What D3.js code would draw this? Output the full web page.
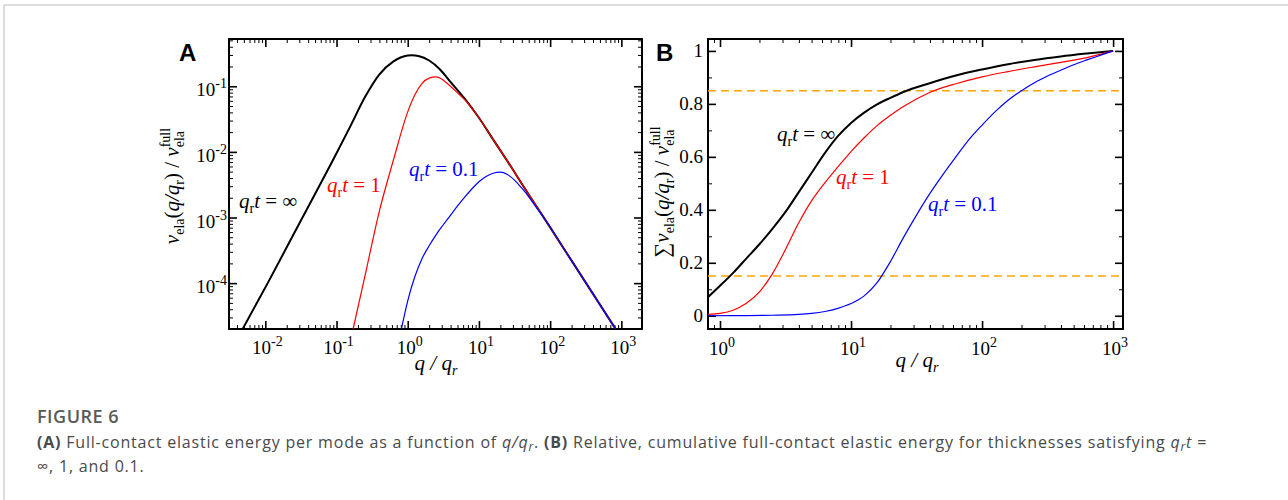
<!DOCTYPE html>
<html>
<head>
<meta charset="utf-8">
<script src="https://cdn.jsdelivr.net/npm/d3@7"></script>
<style>
  body { margin: 0; background: #fff; }
  svg { display: block; }
</style>
</head>
<body>
<div id="fig"></div>
<script>
// Panel A: elastic energy per mode
const qA_inf = [0.0048, 0.0108, 0.0316, 0.1, 0.158, 0.251, 0.398, 0.631, 0.794, 1.0, 1.148, 1.413, 2.0, 2.82, 3.98, 6.31, 10, 15.8, 25.1, 41.7, 79.4, 200, 832];
const vA_inf = [2.0e-5, 1.0e-4, 9.0e-4, 9.55e-3, 0.0251, 0.0684, 0.151, 0.240, 0.274, 0.294, 0.297, 0.289, 0.247, 0.182, 0.117, 0.0646, 0.0331, 0.0155, 0.00724, 0.00305, 0.00104, 2.2e-4, 2.0e-5];
const qA_1 = [0.171, 0.251, 0.398, 0.631, 1.0, 1.26, 1.58, 2.0, 2.51, 3.16, 3.98, 5.01, 6.31, 10, 15.8, 25.1, 41.7, 79.4, 200, 832];
const vA_1 = [2.0e-5, 1.29e-4, 1.23e-3, 7.59e-3, 0.0407, 0.0741, 0.110, 0.133, 0.139, 0.124, 0.1, 0.0794, 0.0624, 0.0331, 0.0155, 0.00724, 0.00305, 0.00104, 2.2e-4, 2.0e-5];
const qA_01 = [0.815, 1.0, 1.26, 1.58, 2.0, 2.51, 3.16, 3.98, 5.01, 6.31, 7.94, 10, 12.6, 15.8, 20, 25.1, 31.6, 39.8, 50.1, 63.1, 79.4, 200, 832];
const vA_01 = [2.0e-5, 5.37e-5, 1.26e-4, 2.34e-4, 3.72e-4, 5.5e-4, 7.76e-4, 1.08e-3, 1.50e-3, 2.04e-3, 2.72e-3, 3.51e-3, 4.22e-3, 4.73e-3, 4.90e-3, 4.52e-3, 3.72e-3, 2.82e-3, 2.07e-3, 1.45e-3, 1.04e-3, 2.2e-4, 2.0e-5];

// Panel B: cumulative relative energy
const qB_inf = [0.81, 1, 1.26, 1.58, 2.0, 2.51, 3.16, 3.98, 5.01, 6.31, 7.94, 10, 12.6, 15.8, 20, 25.1, 39.8, 63.1, 100, 158, 251, 398, 631, 1000];
const sB_inf = [0.07, 0.113, 0.162, 0.215, 0.27, 0.328, 0.392, 0.466, 0.54, 0.614, 0.678, 0.728, 0.767, 0.798, 0.823, 0.845, 0.878, 0.907, 0.930, 0.950, 0.966, 0.979, 0.990, 1.0];
const qB_1 = [0.81, 1, 1.26, 1.58, 2.0, 2.51, 3.16, 3.98, 5.01, 6.31, 7.94, 10, 12.6, 15.8, 20, 25.1, 39.8, 63.1, 100, 158, 251, 398, 631, 1000];
const sB_1 = [0.005, 0.009, 0.021, 0.046, 0.09, 0.158, 0.25, 0.35, 0.435, 0.502, 0.562, 0.62, 0.672, 0.718, 0.757, 0.79, 0.843, 0.876, 0.902, 0.922, 0.94, 0.957, 0.975, 1.0];
const qB_01 = [0.81, 1.58, 2.51, 3.98, 5.01, 6.31, 7.94, 10, 12.6, 15.8, 20, 25.1, 31.6, 39.8, 50.1, 63.1, 79.4, 100, 126, 158, 200, 251, 316, 398, 501, 631, 794, 1000];
const sB_01 = [0.0, 0.0005, 0.002, 0.005, 0.009, 0.016, 0.028, 0.046, 0.075, 0.125, 0.205, 0.295, 0.38, 0.46, 0.532, 0.6, 0.665, 0.72, 0.771, 0.814, 0.85, 0.88, 0.905, 0.927, 0.948, 0.966, 0.983, 1.0];
const thresholds = [0.15, 0.85];

// tick labels
const xExpA = [-2, -1, 0, 1, 2, 3];
const yExpA = [-1, -2, -3, -4];
const xExpB = [0, 1, 2, 3];
const yTicksB = [0, 0.2, 0.4, 0.6, 0.8, 1];

const serif = "Liberation Serif, Times New Roman, serif";

const svg = d3.select("#fig").append("svg")
  .attr("width", 1288)
  .attr("height", 500);

// page border lines
svg.append("line").attr("x1", 4).attr("x2", 1288).attr("y1", 5).attr("y2", 5)
  .attr("stroke", "#d2d2d2").attr("stroke-width", 1.5);
svg.append("line").attr("x1", 4).attr("x2", 4).attr("y1", 5).attr("y2", 500)
  .attr("stroke", "#d2d2d2").attr("stroke-width", 1.5);

// scales
const xA = d3.scaleLog().domain([0.00309, 1950]).range([229, 642]);
const yA = d3.scaleLog().domain([2e-5, 0.525]).range([329, 39]);
const xB = d3.scaleLog().domain([0.81, 1190]).range([708, 1123]);
const yB = d3.scaleLinear().domain([-0.05, 1.045]).range([329, 39]);

function logMinors(dom) {
  const out = [];
  for (let e = -6; e <= 4; e++)
    for (let m = 2; m <= 9; m++) {
      const v = m * Math.pow(10, e);
      if (v >= dom[0] && v <= dom[1]) out.push(v);
    }
  return out;
}

function frame(x, y, xMaj, xMin, yMaj, yMin) {
  const [l, r] = x.range();
  const [b, t] = y.range();
  const g = svg.append("g");
  const add = (axis, tf, vals, size, w) => g.append("g")
    .attr("transform", tf)
    .call(axis.tickValues(vals).tickSize(-size).tickFormat(""))
    .call(s => {
      s.select(".domain").remove();
      s.selectAll("line").attr("stroke", "#000").attr("stroke-width", w);
    });
  add(d3.axisBottom(x), `translate(0,${b})`, xMaj, 8, 1.6);
  add(d3.axisBottom(x), `translate(0,${b})`, xMin, 4, 1);
  add(d3.axisTop(x), `translate(0,${t})`, xMaj, 8, 1.6);
  add(d3.axisTop(x), `translate(0,${t})`, xMin, 4, 1);
  add(d3.axisLeft(y), `translate(${l},0)`, yMaj, 8, 1.6);
  add(d3.axisLeft(y), `translate(${l},0)`, yMin, 4, 1);
  add(d3.axisRight(y), `translate(${r},0)`, yMaj, 8, 1.6);
  add(d3.axisRight(y), `translate(${r},0)`, yMin, 4, 1);
  g.append("rect").attr("x", l).attr("y", t).attr("width", r - l).attr("height", b - t)
    .attr("fill", "none").attr("stroke", "#000").attr("stroke-width", 2);
}

function powLabel(sel, e) {
  sel.append("tspan").text("10");
  sel.append("tspan").attr("font-size", 14).attr("dy", -8).text(e);
}

function clip(id, x, y) {
  const [l, r] = x.range();
  const [b, t] = y.range();
  svg.append("clipPath").attr("id", id).append("rect")
    .attr("x", l).attr("y", t).attr("width", r - l).attr("height", b - t);
}

function curve(x, y, qs, vs, color, w, clipId) {
  const line = d3.line()
    .x(d => x(d[0]))
    .y(d => y(d[1]))
    .curve(d3.curveMonotoneX);
  svg.append("path")
    .datum(d3.zip(qs, vs))
    .attr("d", line)
    .attr("fill", "none")
    .attr("stroke", color)
    .attr("stroke-width", w)
    .attr("clip-path", `url(#${clipId})`);
}

function curveLabel(x, y, color, val) {
  const t = svg.append("text").attr("x", x).attr("y", y)
    .attr("font-family", serif).attr("font-size", 21).attr("fill", color);
  t.append("tspan").attr("font-style", "italic").text("q");
  t.append("tspan").attr("font-size", 14).attr("dy", 5).text("r");
  t.append("tspan").attr("font-style", "italic").attr("dy", -5).text("t");
  t.append("tspan").text(" = " + val);
}

// y title: [prefix] v_ela(q/q_r) / v_ela^full
function yTitle(cx, cy, prefix) {
  const t = svg.append("g").attr("transform", `translate(${cx},${cy}) rotate(-90)`)
    .append("text").attr("text-anchor", "middle")
    .attr("font-family", serif).attr("font-size", 21);
  if (prefix) t.append("tspan").text(prefix);
  t.append("tspan").attr("font-style", "italic").text("v");
  t.append("tspan").attr("font-size", 14).attr("dy", 5).text("ela");
  t.append("tspan").attr("dy", -5).text("(");
  t.append("tspan").attr("font-style", "italic").text("q/q");
  t.append("tspan").attr("font-size", 14).attr("dy", 5).text("r");
  t.append("tspan").attr("dy", -5).text(") / ");
  t.append("tspan").attr("font-style", "italic").text("v");
  const full = t.append("tspan").attr("font-size", 14).attr("dy", -9).text("full");
  const wFull = full.node().getComputedTextLength();
  t.append("tspan").attr("font-size", 14).attr("dx", -wFull).attr("dy", 14).text("ela");
}

// ---------- Panel A ----------
const xMajA = xExpA.map(e => Math.pow(10, e));
const yMajA = yExpA.map(e => Math.pow(10, e));
frame(xA, yA, xMajA, logMinors(xA.domain()), yMajA, logMinors(yA.domain()));
clip("clipA", xA, yA);
curve(xA, yA, qA_inf, vA_inf, "#000", 2, "clipA");
curve(xA, yA, qA_1, vA_1, "#ff0000", 1.2, "clipA");
curve(xA, yA, qA_01, vA_01, "#0000ff", 1.2, "clipA");

svg.append("g").selectAll("text").data(xExpA).join("text")
  .attr("x", e => xA(Math.pow(10, e)) + 2)
  .attr("y", 354)
  .attr("text-anchor", "middle")
  .attr("font-family", serif).attr("font-size", 19)
  .each(function(e) { powLabel(d3.select(this), e); });

svg.append("g").selectAll("text").data(yExpA).join("text")
  .attr("x", 227)
  .attr("y", e => yA(Math.pow(10, e)) + 10)
  .attr("text-anchor", "end")
  .attr("font-family", serif).attr("font-size", 19)
  .each(function(e) { powLabel(d3.select(this), e); });

const xtA = svg.append("text").attr("x", 436).attr("y", 370).attr("text-anchor", "middle")
  .attr("font-family", serif).attr("font-size", 21);
xtA.append("tspan").attr("font-style", "italic").text("q / q");
xtA.append("tspan").attr("font-style", "italic").attr("font-size", 14).attr("dy", 5).text("r");

yTitle(179, 186, "");
curveLabel(239, 208, "#000", "\u221e");
curveLabel(327, 192, "#ff0000", "1");
curveLabel(409, 176, "#0000ff", "0.1");

svg.append("text").attr("x", 179).attr("y", 61)
  .attr("font-family", "Liberation Sans, Arial, sans-serif").attr("font-weight", "bold")
  .attr("font-size", 24).text("A");

// ---------- Panel B ----------
const xMajB = xExpB.map(e => Math.pow(10, e));
const yMinB = d3.range(0, 1.05, 0.1).map(v => +v.toFixed(1)).filter(v => !yTicksB.includes(v));
frame(xB, yB, xMajB, logMinors(xB.domain()), yTicksB, yMinB);
clip("clipB", xB, yB);

svg.append("g").selectAll("line").data(thresholds).join("line")
  .attr("x1", xB.range()[0]).attr("x2", xB.range()[1])
  .attr("y1", d => yB(d)).attr("y2", d => yB(d))
  .attr("stroke", "#ffa500").attr("stroke-width", 1.5)
  .attr("stroke-dasharray", "8,5");

curve(xB, yB, qB_inf, sB_inf, "#000", 2, "clipB");
curve(xB, yB, qB_1, sB_1, "#ff0000", 1.2, "clipB");
curve(xB, yB, qB_01, sB_01, "#0000ff", 1.2, "clipB");

svg.append("g").selectAll("text").data(xExpB).join("text")
  .attr("x", e => xB(Math.pow(10, e)) + 2)
  .attr("y", 355)
  .attr("text-anchor", "middle")
  .attr("font-family", serif).attr("font-size", 19)
  .each(function(e) { powLabel(d3.select(this), e); });

svg.append("g").selectAll("text").data(yTicksB).join("text")
  .attr("x", 703)
  .attr("y", d => yB(d) + 6.5)
  .attr("text-anchor", "end")
  .attr("font-family", serif).attr("font-size", 19)
  .text(d => d3.format("")(d));

const xtB = svg.append("text").attr("x", 917).attr("y", 367).attr("text-anchor", "middle")
  .attr("font-family", serif).attr("font-size", 21);
xtB.append("tspan").attr("font-style", "italic").text("q / q");
xtB.append("tspan").attr("font-style", "italic").attr("font-size", 14).attr("dy", 5).text("r");

yTitle(669, 192, "\u2211");
curveLabel(777, 141, "#000", "\u221e");
curveLabel(836, 184, "#ff0000", "1");
curveLabel(928, 211, "#0000ff", "0.1");

svg.append("text").attr("x", 656).attr("y", 61)
  .attr("font-family", "Liberation Sans, Arial, sans-serif").attr("font-weight", "bold")
  .attr("font-size", 24).text("B");

// ---------- caption ----------
const capFont = "Open Sans, Noto Sans, sans-serif";
svg.append("text").attr("x", 37).attr("y", 423)
  .attr("font-family", capFont).attr("font-size", 18).attr("font-weight", 600)
  .attr("letter-spacing", 0.5)
  .attr("fill", "#5a5a5a").text("FIGURE 6");

const cap1 = svg.append("text").attr("x", 37).attr("y", 448)
  .attr("font-family", capFont).attr("font-size", 16).attr("fill", "#4a4a4a")
  .attr("letter-spacing", 0.8);
cap1.append("tspan").attr("font-weight", "bold").text("(A)");
cap1.append("tspan").text(" Full-contact elastic energy per mode as a function of ");
cap1.append("tspan").attr("font-style", "italic").text("q/q");
cap1.append("tspan").attr("font-style", "italic").attr("font-size", 12).attr("dy", 3).text("r");
cap1.append("tspan").attr("dy", -3).text(". ");
cap1.append("tspan").attr("font-weight", "bold").text("(B)");
cap1.append("tspan").text(" Relative, cumulative full-contact elastic energy for thicknesses satisfying ");
cap1.append("tspan").attr("font-style", "italic").text("q");
cap1.append("tspan").attr("font-style", "italic").attr("font-size", 12).attr("dy", 3).text("r");
cap1.append("tspan").attr("font-style", "italic").attr("dy", -3).text("t");
cap1.append("tspan").text(" =");

svg.append("text").attr("x", 37).attr("y", 472)
  .attr("font-family", capFont).attr("font-size", 16).attr("fill", "#4a4a4a")
  .attr("letter-spacing", 0.8)
  .text("\u221e, 1, and 0.1.");
</script>
</body>
</html>
